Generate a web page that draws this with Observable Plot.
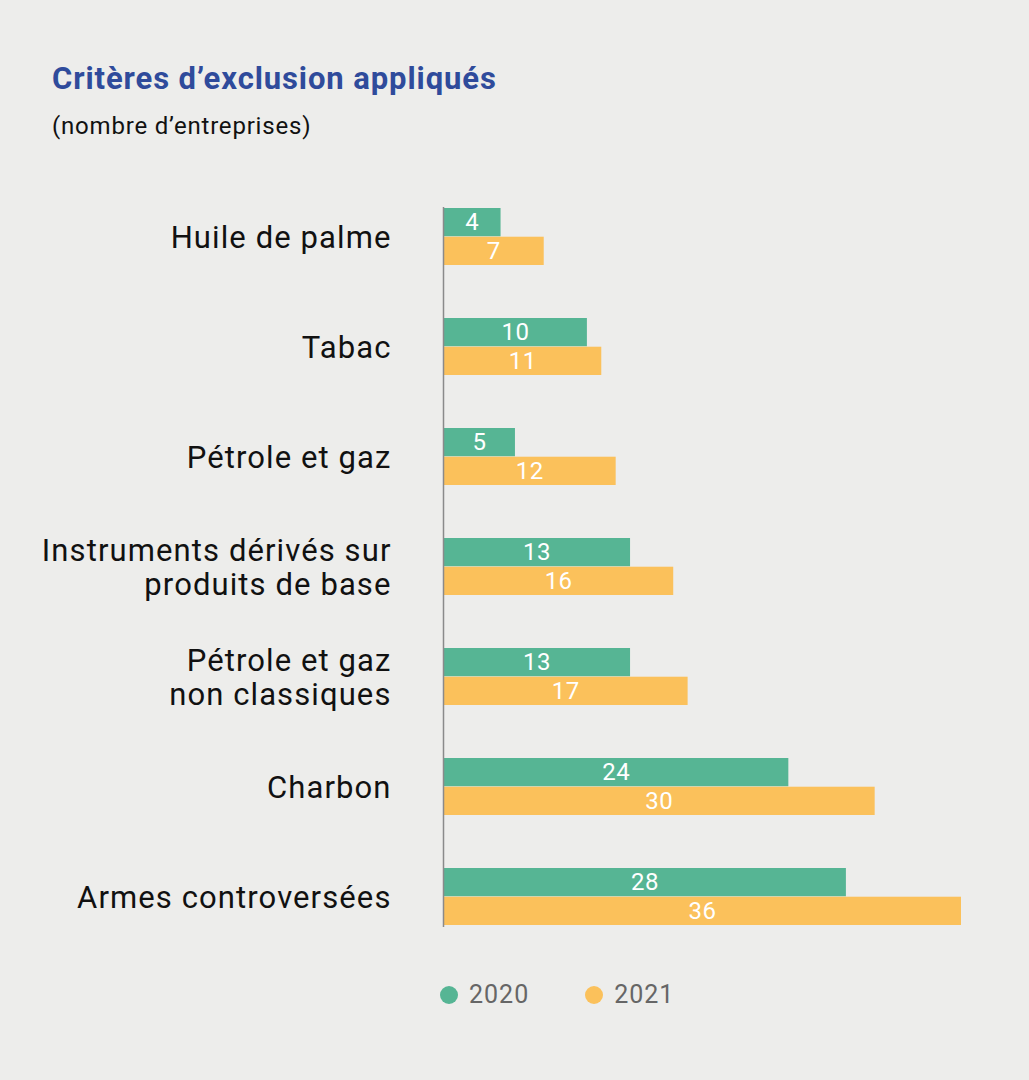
<!DOCTYPE html>
<html><head><meta charset="utf-8">
<script src="https://cdn.jsdelivr.net/npm/d3@7"></script>
<script src="https://cdn.jsdelivr.net/npm/@observablehq/plot@0.6"></script>
<style>
body{margin:0;background:#EDEDEB;font-family:Roboto,sans-serif;}
#wrap{position:relative;width:1029px;height:1080px;background:#EDEDEB;overflow:hidden;}
#title{position:absolute;left:52px;top:63px;font-size:31px;letter-spacing:0.9px;line-height:1;font-weight:700;color:#2F4B9B;white-space:nowrap;}
#sub{position:absolute;left:52px;top:114px;font-size:24px;letter-spacing:0.8px;line-height:1;color:#111;white-space:nowrap;}
#chart{position:absolute;left:0;top:180px;}
#legend{position:absolute;top:981px;left:440px;display:flex;font-size:25px;letter-spacing:1px;line-height:28px;color:#666;}
#legend .item{display:flex;align-items:center;margin-right:56px;}
#legend .dot{width:18px;height:18px;border-radius:50%;margin-right:11px;}
#chart g[aria-label="y-axis tick label"] text{letter-spacing:1.1px;}
#chart g[aria-label="text"] text{letter-spacing:0.5px;}
</style>
</head><body>
<div id="wrap">
  <div id="title">Critères d’exclusion appliqués</div>
  <div id="sub">(nombre d’entreprises)</div>
  <div id="chart"></div>
  <div id="legend"></div>
</div>
<script>
const categories = [
  "Huile de palme",
  "Tabac",
  "Pétrole et gaz",
  "Instruments dérivés sur\nproduits de base",
  "Pétrole et gaz\nnon classiques",
  "Charbon",
  "Armes controversées"
];
const years = ["2020", "2021"];
const values2020 = [4, 10, 5, 13, 13, 24, 28];
const values2021 = [7, 11, 12, 16, 17, 30, 36];
const colors = ["#56B594", "#FBC15B"];

const d2020 = categories.map((c, i) => ({cat: c, value: values2020[i]}));
const d2021 = categories.map((c, i) => ({cat: c, value: values2021[i]}));

const H = 770, marginTop = 27, marginBottom = 23;
const bandH = (H - marginTop - marginBottom) / (categories.length - 0.48) * 0.52;
const half = bandH / 2;

const chart = Plot.plot({
  width: 1029,
  height: H,
  marginLeft: 443,
  marginRight: 68,
  marginTop,
  marginBottom,
  style: {fontFamily: "Roboto, sans-serif", background: "transparent", overflow: "visible"},
  x: {domain: [0, 36], axis: null},
  y: {domain: categories, paddingInner: 0.48, paddingOuter: 0, label: null},
  marks: [
    Plot.barX(d2020, {x: "value", y: "cat", fill: colors[0], insetBottom: half}),
    Plot.barX(d2021, {x: "value", y: "cat", fill: colors[1], insetTop: half}),
    Plot.text(d2020, {x: d => d.value / 2, y: "cat", text: d => String(d.value), dy: -half / 2, fill: "white", fontSize: 24}),
    Plot.text(d2021, {x: d => d.value / 2, y: "cat", text: d => String(d.value), dy: half / 2, fill: "white", fontSize: 24}),
    Plot.ruleX([0], {stroke: "#8a8a8a", strokeWidth: 1.5}),
    Plot.axisY({tickSize: 0, tickPadding: 52, fontSize: 31, fill: "#111", lineHeight: 1.1, label: null})
  ]
});
document.getElementById("chart").appendChild(chart);

const legend = document.getElementById("legend");
years.forEach((y, i) => {
  const item = document.createElement("div");
  item.className = "item";
  const dot = document.createElement("div");
  dot.className = "dot";
  dot.style.background = colors[i];
  const t = document.createElement("span");
  t.textContent = y;
  item.appendChild(dot); item.appendChild(t);
  legend.appendChild(item);
});
</script>
</body></html>
